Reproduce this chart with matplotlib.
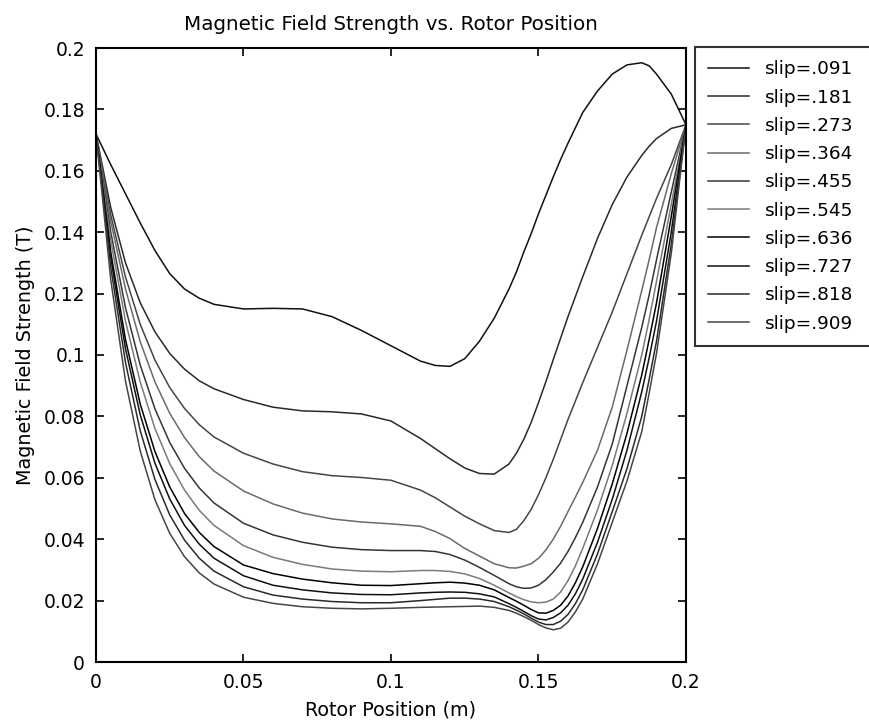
import matplotlib
matplotlib.use("Agg")
import matplotlib.pyplot as plt

plt.rcParams['font.family'] = ['DejaVu Sans']

# rotor position (m)
x_pos = [0, 0.005, 0.01, 0.015, 0.02, 0.025, 0.03, 0.035, 0.04, 0.05,
         0.06, 0.07, 0.08, 0.09, 0.10, 0.11, 0.115, 0.12, 0.125, 0.13,
         0.135, 0.14, 0.1425, 0.145, 0.1475, 0.15, 0.1525, 0.155, 0.1575, 0.16,
         0.1625, 0.165, 0.17, 0.175, 0.18, 0.185, 0.1875, 0.19, 0.195, 0.2]

slip_labels = ['slip=.091', 'slip=.181', 'slip=.273', 'slip=.364', 'slip=.455',
               'slip=.545', 'slip=.636', 'slip=.727', 'slip=.818', 'slip=.909']

# field strength (T) for each slip value
b_091 = [0.172, 0.162, 0.1525, 0.143, 0.134, 0.1265, 0.1215, 0.1185, 0.1165, 0.115,
         0.1152, 0.115, 0.1125, 0.108, 0.103, 0.098, 0.0966, 0.0963, 0.0988, 0.1045,
         0.112, 0.1215, 0.127, 0.1335, 0.1395, 0.146, 0.152, 0.158, 0.1637, 0.169,
         0.174, 0.179, 0.186, 0.1915, 0.1945, 0.1952, 0.1942, 0.1915, 0.185, 0.175]
b_181 = [0.172, 0.148, 0.130, 0.117, 0.1075, 0.1005, 0.0954, 0.0916, 0.089, 0.0855,
         0.083, 0.0818, 0.0815, 0.0808, 0.0785, 0.0728, 0.0695, 0.0662, 0.0632, 0.0614,
         0.0612, 0.0645, 0.068, 0.0725, 0.078, 0.0845, 0.0913, 0.0985, 0.1055, 0.1125,
         0.119, 0.1255, 0.138, 0.149, 0.158, 0.165, 0.168, 0.1705, 0.1738, 0.175]
b_273 = [0.172, 0.1456, 0.1254, 0.110, 0.0983, 0.0894, 0.0826, 0.0773, 0.0733, 0.068,
         0.0645, 0.062, 0.0607, 0.0601, 0.0592, 0.056, 0.0535, 0.0505, 0.0475, 0.045,
         0.0428, 0.0422, 0.0432, 0.046, 0.0497, 0.0545, 0.060, 0.066, 0.0725, 0.079,
         0.085, 0.091, 0.1025, 0.114, 0.1265, 0.139, 0.145, 0.151, 0.162, 0.175]
b_364 = [0.172, 0.1435, 0.1215, 0.1043, 0.0912, 0.081, 0.0731, 0.0669, 0.0622, 0.0557,
         0.0515, 0.0485, 0.0466, 0.0456, 0.045, 0.0442, 0.0425, 0.0402, 0.037, 0.0345,
         0.032, 0.0307, 0.0306, 0.0312, 0.032, 0.0338, 0.0365, 0.040, 0.0442, 0.049,
         0.0537, 0.0585, 0.069, 0.083, 0.1016, 0.121, 0.131, 0.1415, 0.159, 0.175]
b_455 = [0.172, 0.140, 0.1154, 0.0967, 0.0824, 0.0715, 0.0631, 0.0567, 0.0518, 0.0452,
         0.0414, 0.039, 0.0374, 0.0366, 0.0363, 0.0363, 0.036, 0.035, 0.0332, 0.0308,
         0.0282, 0.0255, 0.0245, 0.024, 0.0241, 0.025, 0.0268, 0.0293, 0.0322, 0.036,
         0.0405, 0.0455, 0.057, 0.071, 0.090, 0.109, 0.1195, 0.131, 0.153, 0.175]
b_545 = [0.172, 0.1373, 0.111, 0.0912, 0.076, 0.0646, 0.056, 0.0494, 0.0445, 0.0379,
         0.0341, 0.0318, 0.0303, 0.0296, 0.0294, 0.0298, 0.0298, 0.0295, 0.0287, 0.0272,
         0.025, 0.0225, 0.0213, 0.0203, 0.0196, 0.0193, 0.0195, 0.0205, 0.0228, 0.0265,
         0.0313, 0.037, 0.0495, 0.064, 0.081, 0.100, 0.1115, 0.124, 0.149, 0.175]
b_636 = [0.172, 0.1335, 0.105, 0.084, 0.0685, 0.057, 0.0484, 0.0422, 0.0376, 0.0316,
         0.0288, 0.027, 0.0258, 0.025, 0.0249, 0.0255, 0.0258, 0.026, 0.0257, 0.025,
         0.0235, 0.021, 0.0198, 0.0185, 0.0171, 0.016, 0.0159, 0.0168, 0.0185, 0.0215,
         0.0258, 0.031, 0.0435, 0.058, 0.0745, 0.0935, 0.105, 0.117, 0.145, 0.175]
b_727 = [0.172, 0.1317, 0.102, 0.0805, 0.0647, 0.0531, 0.0445, 0.0384, 0.0338, 0.0281,
         0.025, 0.0235, 0.0225, 0.022, 0.0219, 0.0225, 0.0227, 0.0228, 0.0227, 0.0222,
         0.0212, 0.019, 0.0178, 0.0165, 0.0151, 0.014, 0.0137, 0.0145, 0.016, 0.0185,
         0.0222, 0.027, 0.039, 0.053, 0.069, 0.088, 0.099, 0.111, 0.140, 0.175]
b_818 = [0.172, 0.1286, 0.0975, 0.0753, 0.0594, 0.0479, 0.0397, 0.0338, 0.0296, 0.0245,
         0.0218, 0.0205, 0.0197, 0.0193, 0.0193, 0.020, 0.0204, 0.0208, 0.0208, 0.0205,
         0.0197, 0.018, 0.0169, 0.0157, 0.0143, 0.013, 0.0122, 0.0122, 0.0133, 0.0155,
         0.019, 0.0235, 0.0352, 0.049, 0.063, 0.080, 0.092, 0.1045, 0.136, 0.175]
b_909 = [0.172, 0.1245, 0.0915, 0.0687, 0.0528, 0.0419, 0.0343, 0.029, 0.0254, 0.0211,
         0.0191, 0.018, 0.0175, 0.0173, 0.0175, 0.0178, 0.0179, 0.018, 0.0181, 0.0182,
         0.0178, 0.0168, 0.0159, 0.0148, 0.0136, 0.0122, 0.0111, 0.0105, 0.011, 0.013,
         0.0163, 0.0205, 0.032, 0.0455, 0.059, 0.075, 0.0875, 0.1005, 0.133, 0.175]

field = [b_091, b_181, b_273, b_364, b_455, b_545, b_636, b_727, b_818, b_909]

# default line colour order (b g r c m y k) printed in grey
line_greys = ['#101010', '#2a2a2a', '#454545', '#6a6a6a', '#353535',
              '#7a7a7a', '#000000', '#101010', '#2a2a2a', '#454545']

fig = plt.figure(figsize=(8.7, 7.27), dpi=100)
ax = fig.add_axes([96 / 870, 1 - 662 / 727, 590 / 870, 614 / 727])

for b, lab, c in zip(field, slip_labels, line_greys):
    ax.plot(x_pos, b, color=c, linewidth=1.1, label=lab)

ax.set_xlim(0, 0.2)
ax.set_ylim(0, 0.2)
ax.set_xticks([0, 0.05, 0.1, 0.15, 0.2])
ax.set_xticklabels(['0', '0.05', '0.1', '0.15', '0.2'])
ax.set_yticks([0, 0.02, 0.04, 0.06, 0.08, 0.1, 0.12, 0.14, 0.16, 0.18, 0.2])
ax.set_yticklabels(['0', '0.02', '0.04', '0.06', '0.08', '0.1', '0.12',
                    '0.14', '0.16', '0.18', '0.2'])
ax.tick_params(direction='in', length=6, width=1.2, top=True, right=True,
               labelsize=13.5, pad=8, colors='black')
for s in ax.spines.values():
    s.set_linewidth(1.5)

ax.set_title('Magnetic Field Strength vs. Rotor Position', fontsize=14.3, pad=13)
ax.set_xlabel('Rotor Position (m)', fontsize=13.8, labelpad=6)
ax.set_ylabel('Magnetic Field Strength (T)', fontsize=13.8, labelpad=6)

# legend box runs off the right edge of the figure
leg_top = 1 - 47 / 727
leg = ax.legend(loc='upper left',
                bbox_to_anchor=(695 / 870, 0.3, 185 / 870, leg_top - 0.3),
                bbox_transform=fig.transFigure, mode='expand',
                fontsize=13.3, frameon=True, fancybox=False, edgecolor='black',
                handlelength=2.2, handletextpad=0.87, labelspacing=0.555,
                borderpad=0.72, borderaxespad=0)
leg.get_frame().set_linewidth(1.5)

fig.savefig('out.png', dpi=100)
